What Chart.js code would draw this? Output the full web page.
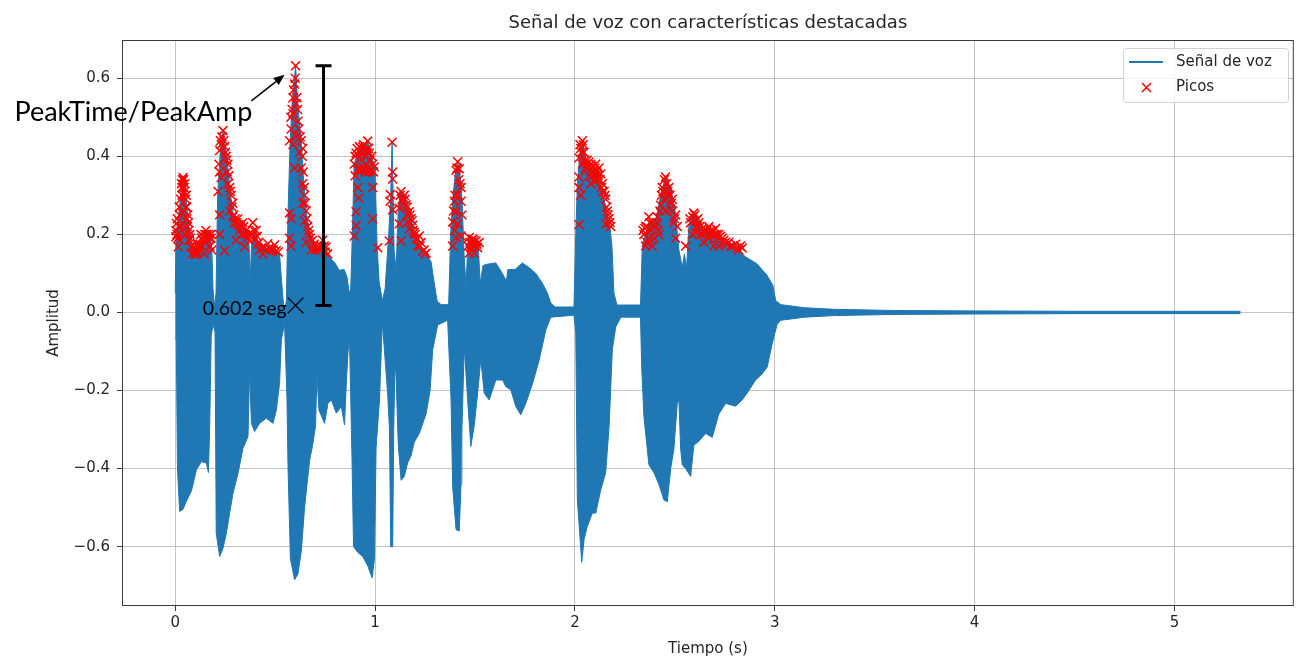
<!DOCTYPE html>
<html>
<head>
<meta charset="utf-8">
<script src="https://cdn.jsdelivr.net/npm/chart.js@4.4.1/dist/chart.umd.min.js"></script>
<style>
  html, body { margin: 0; padding: 0; background: #fff; }
  #wrap { width: 1306px; height: 656px; }
</style>
</head>
<body>
<div id="wrap"><canvas id="voz" width="1306" height="656"></canvas></div>
<script>
// envelope of the voice signal: [time (s), amplitude]
const envelopeTop = [
  [0.000,0.05],[0.004,0.20],[0.015,0.24],[0.030,0.31],[0.040,0.345],[0.050,0.31],[0.060,0.26],[0.070,0.21],
  [0.085,0.17],[0.100,0.155],[0.120,0.16],[0.140,0.19],[0.155,0.21],[0.172,0.20],[0.183,0.16],[0.189,0.06],
  [0.196,0.015],[0.204,0.05],[0.212,0.30],[0.226,0.42],[0.239,0.465],[0.250,0.42],[0.262,0.38],[0.275,0.31],
  [0.290,0.25],[0.310,0.235],[0.335,0.225],[0.355,0.21],[0.368,0.19],[0.375,0.08],[0.382,0.18],[0.400,0.21],
  [0.420,0.17],[0.450,0.165],[0.480,0.165],[0.505,0.16],[0.522,0.15],[0.532,0.08],[0.545,0.00],[0.556,0.03],
  [0.564,0.25],[0.575,0.44],[0.585,0.54],[0.595,0.59],[0.602,0.632],[0.610,0.56],[0.620,0.49],[0.632,0.43],
  [0.642,0.34],[0.655,0.26],[0.670,0.21],[0.690,0.18],[0.710,0.165],[0.740,0.175],[0.760,0.155],[0.775,0.14],
  [0.800,0.126],[0.820,0.108],[0.845,0.11],[0.860,0.09],[0.870,0.05],[0.878,0.06],[0.886,0.20],[0.895,0.38],
  [0.920,0.42],[0.963,0.44],[0.985,0.40],[1.000,0.36],[1.010,0.17],[1.020,0.08],[1.036,0.03],[1.050,0.06],
  [1.068,0.20],[1.078,0.30],[1.085,0.436],[1.090,0.30],[1.095,0.16],[1.105,0.11],[1.115,0.25],[1.125,0.31],
  [1.145,0.30],[1.170,0.26],[1.195,0.21],[1.221,0.17],[1.260,0.145],[1.280,0.13],[1.296,0.075],[1.310,0.03],
  [1.330,0.02],[1.368,0.02],[1.378,0.20],[1.390,0.30],[1.405,0.37],[1.413,0.386],[1.425,0.35],[1.435,0.29],
  [1.445,0.15],[1.455,0.065],[1.465,0.19],[1.490,0.19],[1.515,0.18],[1.526,0.075],[1.540,0.12],[1.554,0.123],
  [1.604,0.127],[1.637,0.10],[1.657,0.08],[1.664,0.11],[1.700,0.11],[1.737,0.127],[1.770,0.115],[1.804,0.10],
  [1.837,0.075],[1.862,0.05],[1.879,0.024],[1.900,0.014],[1.995,0.014],[2.004,0.20],[2.012,0.33],[2.025,0.41],
  [2.037,0.44],[2.055,0.38],[2.080,0.37],[2.110,0.35],[2.135,0.31],[2.155,0.27],[2.175,0.22],[2.185,0.17],
  [2.195,0.05],[2.210,0.019],[2.328,0.019],[2.337,0.17],[2.370,0.23],[2.404,0.235],[2.429,0.30],[2.453,0.347],
  [2.479,0.32],[2.504,0.25],[2.520,0.16],[2.537,0.116],[2.548,0.15],[2.558,0.11],[2.570,0.22],[2.595,0.255],
  [2.637,0.215],[2.687,0.205],[2.737,0.185],[2.804,0.165],[2.855,0.142],[2.910,0.125],[2.960,0.096],[2.990,0.07],
  [3.005,0.03],[3.030,0.02],[3.150,0.012],[3.300,0.008],[3.600,0.005],[4.000,0.004],[4.500,0.003],[5.000,0.003],
  [5.330,0.003]
];
const envelopeBottom = [
  [0.000,-0.066],[0.005,-0.07],[0.011,-0.40],[0.022,-0.51],[0.039,-0.504],[0.056,-0.483],[0.081,-0.457],
  [0.106,-0.403],[0.131,-0.382],[0.156,-0.386],[0.166,-0.41],[0.172,-0.30],[0.180,-0.06],[0.189,-0.03],
  [0.199,-0.05],[0.205,-0.565],[0.222,-0.625],[0.239,-0.604],[0.256,-0.565],[0.272,-0.514],[0.289,-0.463],
  [0.314,-0.412],[0.339,-0.348],[0.364,-0.318],[0.372,-0.148],[0.381,-0.284],[0.397,-0.305],[0.422,-0.284],
  [0.456,-0.271],[0.489,-0.284],[0.506,-0.25],[0.522,-0.18],[0.531,-0.07],[0.547,-0.028],[0.559,-0.22],
  [0.564,-0.39],[0.576,-0.63],[0.597,-0.685],[0.614,-0.67],[0.631,-0.61],[0.647,-0.50],[0.672,-0.38],
  [0.689,-0.335],[0.702,-0.29],[0.709,-0.157],[0.719,-0.25],[0.747,-0.284],[0.764,-0.233],[0.781,-0.224],
  [0.806,-0.258],[0.831,-0.241],[0.847,-0.288],[0.856,-0.18],[0.864,-0.105],[0.872,-0.066],[0.885,-0.39],
  [0.892,-0.60],[0.914,-0.615],[0.939,-0.626],[0.964,-0.65],[0.985,-0.68],[0.997,-0.63],[1.005,-0.346],
  [1.022,-0.224],[1.036,-0.024],[1.047,-0.10],[1.063,-0.21],[1.072,-0.30],[1.078,-0.60],[1.088,-0.60],
  [1.093,-0.30],[1.100,-0.12],[1.105,-0.165],[1.116,-0.34],[1.130,-0.43],[1.146,-0.42],[1.163,-0.385],
  [1.180,-0.367],[1.196,-0.332],[1.221,-0.31],[1.255,-0.26],[1.275,-0.20],[1.288,-0.096],[1.313,-0.032],
  [1.363,-0.02],[1.380,-0.224],[1.388,-0.446],[1.405,-0.556],[1.421,-0.56],[1.430,-0.44],[1.434,-0.31],
  [1.446,-0.088],[1.463,-0.224],[1.479,-0.343],[1.496,-0.29],[1.513,-0.207],[1.529,-0.12],[1.546,-0.207],
  [1.571,-0.224],[1.604,-0.173],[1.638,-0.173],[1.654,-0.19],[1.679,-0.198],[1.704,-0.241],[1.729,-0.262],
  [1.754,-0.233],[1.788,-0.182],[1.821,-0.122],[1.854,-0.045],[1.879,-0.012],[1.995,-0.007],[2.004,-0.05],
  [2.012,-0.48],[2.034,-0.64],[2.046,-0.58],[2.062,-0.548],[2.087,-0.514],[2.104,-0.514],[2.129,-0.455],
  [2.154,-0.41],[2.171,-0.29],[2.187,-0.096],[2.204,-0.037],[2.230,-0.012],[2.328,-0.012],[2.334,-0.14],
  [2.345,-0.266],[2.370,-0.39],[2.395,-0.41],[2.420,-0.44],[2.445,-0.48],[2.462,-0.485],[2.479,-0.40],
  [2.495,-0.35],[2.512,-0.233],[2.520,-0.224],[2.529,-0.35],[2.537,-0.39],[2.554,-0.40],[2.579,-0.42],
  [2.595,-0.34],[2.620,-0.33],[2.654,-0.31],[2.687,-0.32],[2.720,-0.26],[2.754,-0.233],[2.804,-0.24],
  [2.837,-0.224],[2.870,-0.20],[2.904,-0.173],[2.937,-0.157],[2.962,-0.14],[2.987,-0.08],[3.012,-0.03],
  [3.030,-0.02],[3.150,-0.012],[3.300,-0.008],[3.600,-0.005],[4.000,-0.004],[4.500,-0.003],[5.000,-0.003],
  [5.330,-0.003]
];

// detected peaks: [time (s), amplitude]
const peaks = [
  // 0.00 - 0.19 s
  [0.003,0.194],[0.004,0.21],[0.006,0.228],[0.009,0.2],[0.010,0.24],[0.013,0.19],[0.015,0.168],[0.018,0.22],
  [0.02,0.27],[0.022,0.25],[0.025,0.185],[0.027,0.29],[0.029,0.22],[0.031,0.33],[0.033,0.32],[0.034,0.3],
  [0.036,0.34],[0.037,0.255],[0.039,0.346],[0.042,0.34],[0.044,0.32],[0.046,0.31],[0.048,0.33],[0.05,0.2],
  [0.052,0.29],[0.053,0.27],[0.055,0.3],[0.057,0.27],[0.058,0.24],[0.061,0.22],[0.063,0.25],[0.066,0.23],
  [0.068,0.21],[0.07,0.185],[0.073,0.2],[0.075,0.19],[0.078,0.168],[0.082,0.17],[0.087,0.15],[0.09,0.165],
  [0.095,0.16],[0.098,0.155],[0.103,0.15],[0.106,0.16],[0.108,0.15],[0.112,0.176],[0.115,0.165],[0.118,0.155],
  [0.12,0.168],[0.124,0.175],[0.128,0.2],[0.132,0.19],[0.134,0.17],[0.137,0.185],[0.14,0.195],[0.145,0.15],
  [0.148,0.2],[0.15,0.18],[0.153,0.21],[0.157,0.2],[0.162,0.185],[0.166,0.2],[0.17,0.19],[0.174,0.17],
  [0.178,0.2],[0.18,0.19],[0.183,0.16],
  // 0.21 - 0.52 s
  [0.214,0.31],[0.218,0.38],[0.222,0.415],[0.222,0.36],[0.222,0.25],[0.222,0.2],[0.226,0.44],[0.23,0.43],
  [0.23,0.346],[0.234,0.45],[0.239,0.466],[0.243,0.44],[0.247,0.425],[0.247,0.158],[0.251,0.41],[0.255,0.40],
  [0.258,0.39],[0.26,0.36],[0.264,0.38],[0.264,0.33],[0.268,0.35],[0.272,0.32],[0.272,0.26],[0.276,0.31],
  [0.28,0.3],[0.284,0.27],[0.288,0.245],[0.288,0.28],[0.293,0.25],[0.297,0.23],[0.3,0.24],[0.305,0.185],
  [0.309,0.23],[0.313,0.24],[0.317,0.225],[0.322,0.21],[0.326,0.22],[0.33,0.2],[0.338,0.23],[0.343,0.22],
  [0.347,0.168],[0.35,0.2],[0.355,0.21],[0.36,0.19],[0.365,0.2],[0.372,0.185],[0.385,0.2],[0.388,0.23],
  [0.393,0.21],[0.398,0.19],[0.405,0.21],[0.41,0.195],[0.413,0.176],[0.418,0.18],[0.422,0.16],[0.43,0.165],
  [0.438,0.15],[0.442,0.165],[0.447,0.168],[0.455,0.16],[0.463,0.176],[0.47,0.165],[0.48,0.16],[0.49,0.16],
  [0.497,0.173],[0.505,0.158],[0.515,0.155],
  // 0.56 - 0.77 s
  [0.602,0.632],[0.597,0.585],[0.589,0.55],[0.605,0.535],[0.589,0.51],[0.614,0.49],[0.58,0.47],[0.605,0.45],
  [0.63,0.44],[0.589,0.43],[0.622,0.41],[0.638,0.42],[0.572,0.44],[0.597,0.37],[0.63,0.37],[0.572,0.255],
  [0.58,0.24],[0.572,0.19],[0.58,0.17],[0.638,0.33],[0.647,0.3],[0.638,0.28],[0.655,0.26],[0.647,0.235],
  [0.663,0.22],[0.672,0.2],[0.655,0.18],[0.688,0.185],[0.705,0.168],[0.68,0.16],[0.722,0.16],[0.738,0.185],
  [0.755,0.168],[0.763,0.15],[0.578,0.5],[0.585,0.52],[0.592,0.57],[0.6,0.6],[0.608,0.55],[0.612,0.52],
  [0.618,0.47],[0.625,0.45],[0.635,0.4],[0.64,0.36],[0.645,0.32],[0.65,0.28],[0.66,0.24],[0.668,0.21],
  [0.676,0.19],[0.695,0.175],[0.7,0.16],[0.715,0.165],[0.73,0.17],[0.745,0.17],[0.75,0.155],
  // 0.89 - 1.01 s
  [0.963,0.439],[0.921,0.425],[0.938,0.408],[0.905,0.408],[0.971,0.408],[0.896,0.38],[0.955,0.38],[0.988,0.38],
  [0.913,0.364],[0.93,0.364],[0.946,0.368],[0.98,0.364],[0.996,0.373],[0.913,0.32],[0.988,0.32],[0.918,0.293],
  [0.905,0.258],[0.905,0.223],[0.896,0.196],[0.988,0.24],[1.013,0.166],[0.938,0.425],[0.955,0.417],
  [0.9,0.4],[0.91,0.42],[0.925,0.41],[0.935,0.39],[0.942,0.43],[0.95,0.4],[0.96,0.41],[0.967,0.42],
  [0.975,0.39],[0.983,0.4],[0.992,0.36],[0.9,0.35],[0.92,0.37],[0.95,0.36],[0.97,0.36],
  // 1.07 - 1.26 s
  [1.085,0.436],[1.088,0.36],[1.088,0.342],[1.076,0.302],[1.075,0.285],[1.071,0.183],[1.088,0.263],
  [1.13,0.31],[1.146,0.3],[1.121,0.267],[1.138,0.285],[1.155,0.276],[1.171,0.258],[1.18,0.24],[1.163,0.232],
  [1.188,0.223],[1.196,0.205],[1.205,0.188],[1.213,0.17],[1.23,0.179],[1.238,0.157],[1.255,0.152],[1.13,0.183],
  [1.121,0.227],[1.171,0.214],[1.221,0.196],[1.125,0.3],[1.135,0.29],[1.15,0.29],[1.16,0.27],[1.175,0.25],
  [1.185,0.235],[1.19,0.21],[1.2,0.2],[1.21,0.19],[1.225,0.17],[1.245,0.16],[1.25,0.15],[1.16,0.25],
  // 1.38 - 1.53 s
  [1.413,0.386],[1.421,0.368],[1.405,0.364],[1.43,0.32],[1.413,0.302],[1.397,0.285],[1.43,0.285],[1.405,0.258],
  [1.388,0.232],[1.413,0.227],[1.397,0.21],[1.405,0.192],[1.388,0.17],[1.43,0.196],[1.41,0.37],[1.418,0.34],
  [1.425,0.33],[1.4,0.3],[1.392,0.26],[1.435,0.25],
  [1.471,0.192],[1.488,0.188],[1.505,0.183],[1.48,0.166],[1.513,0.166],[1.496,0.152],[1.471,0.152],[1.521,0.179],
  [1.475,0.18],[1.485,0.175],[1.495,0.185],[1.5,0.17],[1.51,0.175],[1.465,0.17],
  // 2.00 - 2.19 s
  [2.037,0.44],[2.029,0.42],[2.045,0.41],[2.02,0.396],[2.037,0.38],[2.062,0.39],[2.079,0.38],[2.104,0.38],
  [2.12,0.37],[2.054,0.37],[2.087,0.36],[2.129,0.355],[2.02,0.347],[2.137,0.33],[2.02,0.32],[2.029,0.3],
  [2.146,0.31],[2.154,0.29],[2.162,0.26],[2.171,0.24],[2.179,0.22],[2.154,0.226],[2.02,0.225],[2.079,0.33],
  [2.112,0.355],[2.095,0.34],[2.025,0.43],[2.033,0.41],[2.042,0.43],[2.05,0.39],[2.058,0.38],[2.066,0.37],
  [2.07,0.385],[2.075,0.365],[2.085,0.375],[2.092,0.36],[2.1,0.37],[2.108,0.36],[2.116,0.35],[2.125,0.34],
  [2.133,0.32],[2.14,0.31],[2.15,0.3],[2.158,0.27],[2.166,0.25],[2.175,0.23],[2.07,0.35],[2.09,0.35],[2.11,0.34],
  // 2.34 - 2.84 s
  [2.453,0.347],[2.437,0.32],[2.47,0.32],[2.462,0.3],[2.445,0.29],[2.487,0.29],[2.429,0.275],[2.479,0.265],
  [2.453,0.26],[2.504,0.25],[2.412,0.245],[2.387,0.23],[2.37,0.245],[2.354,0.22],[2.404,0.22],[2.345,0.2],
  [2.37,0.19],[2.42,0.2],[2.354,0.17],[2.387,0.17],[2.495,0.23],[2.512,0.22],[2.504,0.19],[2.554,0.17],
  [2.34,0.21],[2.35,0.215],[2.36,0.22],[2.375,0.23],[2.38,0.21],[2.395,0.225],[2.41,0.23],[2.415,0.21],
  [2.425,0.26],[2.433,0.3],[2.44,0.31],[2.448,0.34],[2.458,0.33],[2.465,0.31],[2.475,0.3],[2.483,0.28],
  [2.49,0.26],[2.498,0.24],[2.36,0.18],[2.395,0.19],
  [2.595,0.255],[2.579,0.23],[2.604,0.235],[2.62,0.23],[2.587,0.2],[2.637,0.215],[2.654,0.205],[2.67,0.22],
  [2.687,0.205],[2.704,0.215],[2.72,0.2],[2.737,0.19],[2.645,0.18],[2.67,0.19],[2.695,0.17],[2.754,0.18],
  [2.779,0.17],[2.804,0.175],[2.82,0.16],[2.837,0.165],[2.604,0.205],[2.629,0.2],[2.72,0.17],
  [2.575,0.24],[2.59,0.245],[2.6,0.25],[2.61,0.22],[2.615,0.24],[2.625,0.22],[2.635,0.2],[2.645,0.21],
  [2.66,0.21],[2.665,0.2],[2.678,0.21],[2.69,0.21],[2.7,0.2],[2.71,0.2],[2.715,0.19],[2.728,0.195],
  [2.745,0.185],[2.76,0.175],[2.77,0.18],[2.79,0.17],[2.81,0.165],[2.828,0.17]
];

const xTicks = [0, 1, 2, 3, 4, 5];
const yTicks = [-0.6, -0.4, -0.2, 0.0, 0.2, 0.4, 0.6];

// highlighted peak and the amplitude bar next to it
const peakTime = 0.602;
const peakAmp = 0.632;
const barTime = 0.742;
const barBase = 0.018;
const arrowFrom = [0.381, 0.542];
const arrowTo = [0.547, 0.609];

const BLUE = '#1f77b4';
const TEXT = '#262626';
const MPL = '"DejaVu Sans", sans-serif';

function fmtY(v) {
  const s = Math.abs(v).toFixed(1);
  return v < -1e-9 ? '\u2212' + s : s;
}

const decor = {
  id: 'decor',
  afterDraw(chart) {
    const { ctx, chartArea: a, scales: { x, y } } = chart;
    ctx.save();

    // axes frame
    ctx.strokeStyle = '#3c3c3c';
    ctx.lineWidth = 1;
    ctx.strokeRect(a.left + 0.5, a.top + 0.5, a.right - a.left - 1, a.bottom - a.top - 1);

    // title and axis labels
    ctx.fillStyle = TEXT;
    ctx.textAlign = 'center';
    ctx.textBaseline = 'middle';
    ctx.font = '18px ' + MPL;
    ctx.fillText('Señal de voz con características destacadas', (a.left + a.right) / 2, 23);
    ctx.font = '15px ' + MPL;
    ctx.fillText('Tiempo (s)', (a.left + a.right) / 2, 649);
    ctx.save();
    ctx.translate(54, (a.top + a.bottom) / 2);
    ctx.rotate(-Math.PI / 2);
    ctx.fillText('Amplitud', 0, 0);
    ctx.restore();

    // legend
    const lx = 1123, ly = 48, lw = 165, lh = 54;
    ctx.beginPath();
    ctx.roundRect(lx + 0.5, ly + 0.5, lw, lh, 3);
    ctx.fillStyle = 'rgba(255,255,255,0.8)';
    ctx.fill();
    ctx.strokeStyle = 'rgba(204,204,204,0.9)';
    ctx.stroke();
    ctx.strokeStyle = BLUE;
    ctx.lineWidth = 2;
    ctx.beginPath();
    ctx.moveTo(1129, 62); ctx.lineTo(1163, 62);
    ctx.stroke();
    ctx.strokeStyle = 'red';
    ctx.lineWidth = 1.5;
    ctx.beginPath();
    ctx.moveTo(1142, 83); ctx.lineTo(1151, 92);
    ctx.moveTo(1151, 83); ctx.lineTo(1142, 92);
    ctx.stroke();
    ctx.fillStyle = TEXT;
    ctx.textAlign = 'left';
    ctx.font = '15px ' + MPL;
    ctx.fillText('Señal de voz', 1176, 62);
    ctx.fillText('Picos', 1176, 87);

    // amplitude bar with caps
    const bx = x.getPixelForValue(barTime);
    const bTop = y.getPixelForValue(peakAmp);
    const bBot = y.getPixelForValue(barBase);
    ctx.strokeStyle = '#000';
    ctx.lineWidth = 3;
    ctx.beginPath();
    ctx.moveTo(bx, bTop); ctx.lineTo(bx, bBot);
    ctx.moveTo(bx - 8, bTop); ctx.lineTo(bx + 8, bTop);
    ctx.moveTo(bx - 8, bBot); ctx.lineTo(bx + 8, bBot);
    ctx.stroke();

    // arrow to the highest peak
    const ax0 = x.getPixelForValue(arrowFrom[0]), ay0 = y.getPixelForValue(arrowFrom[1]);
    const ax1 = x.getPixelForValue(arrowTo[0]), ay1 = y.getPixelForValue(arrowTo[1]);
    const ang = Math.atan2(ay1 - ay0, ax1 - ax0);
    const hl = 11, hw = 4.5;
    const hx = ax1 - hl * Math.cos(ang), hy = ay1 - hl * Math.sin(ang);
    ctx.lineWidth = 1.5;
    ctx.beginPath();
    ctx.moveTo(ax0, ay0); ctx.lineTo(hx, hy);
    ctx.stroke();
    ctx.fillStyle = '#000';
    ctx.beginPath();
    ctx.moveTo(ax1, ay1);
    ctx.lineTo(hx - hw * Math.sin(ang), hy + hw * Math.cos(ang));
    ctx.lineTo(hx + hw * Math.sin(ang), hy - hw * Math.cos(ang));
    ctx.closePath();
    ctx.fill();

    ctx.textAlign = 'right';
    ctx.textBaseline = 'middle';
    ctx.font = '27px Lato, sans-serif';
    ctx.fillText('PeakTime/PeakAmp', ax0 + 1, ay0 + 11);

    ctx.font = '19.5px Lato, sans-serif';
    ctx.fillText(peakTime.toFixed(3) + ' seg', x.getPixelForValue(peakTime) - 9, y.getPixelForValue(barBase) + 3);

    ctx.restore();
  }
};

new Chart(document.getElementById('voz'), {
  type: 'line',
  data: {
    datasets: [
      {
        label: 'Señal de voz',
        data: envelopeTop,
        borderColor: BLUE,
        backgroundColor: BLUE,
        borderWidth: 1,
        pointRadius: 0,
        tension: 0,
        fill: '+1',
        order: 5
      },
      {
        label: 'envolvente inferior',
        data: envelopeBottom,
        borderColor: BLUE,
        borderWidth: 1,
        pointRadius: 0,
        tension: 0,
        fill: false,
        order: 6
      },
      {
        label: 'Picos',
        data: peaks,
        showLine: false,
        pointStyle: 'crossRot',
        pointRadius: 6.3,
        pointBorderWidth: 1.5,
        pointBorderColor: 'red',
        order: 1
      },
      {
        label: 'PeakTime',
        data: [[peakTime, barBase]],
        showLine: false,
        pointStyle: 'crossRot',
        pointRadius: 11,
        pointBorderWidth: 1.2,
        pointBorderColor: '#000',
        order: 0
      }
    ]
  },
  options: {
    responsive: false,
    animation: false,
    devicePixelRatio: 1,
    layout: { padding: { left: 0, right: 9, top: 40, bottom: 0 } },
    plugins: {
      legend: { display: false },
      title: { display: false },
      tooltip: { enabled: false }
    },
    scales: {
      x: {
        type: 'linear',
        min: -0.2665,
        max: 5.597,
        afterFit: s => { s.height = 50; },
        afterBuildTicks: s => { s.ticks = xTicks.map(v => ({ value: v })); },
        grid: { color: 'rgba(176,176,176,0.75)', lineWidth: 1, tickColor: '#3c3c3c', tickLength: 5 },
        border: { display: false },
        ticks: { color: TEXT, font: { family: 'DejaVu Sans', size: 15 }, padding: 3, maxRotation: 0,
                 callback: v => String(v) }
      },
      y: {
        type: 'linear',
        min: -0.752,
        max: 0.698,
        afterFit: s => { s.width = 122; },
        afterBuildTicks: s => { s.ticks = yTicks.map(v => ({ value: v })); },
        grid: { color: 'rgba(176,176,176,0.75)', lineWidth: 1, tickColor: '#3c3c3c', tickLength: 5 },
        border: { display: false },
        ticks: { color: TEXT, font: { family: 'DejaVu Sans', size: 15 }, padding: 7,
                 callback: v => fmtY(v) }
      }
    }
  },
  plugins: [decor]
});
</script>
</body>
</html>
